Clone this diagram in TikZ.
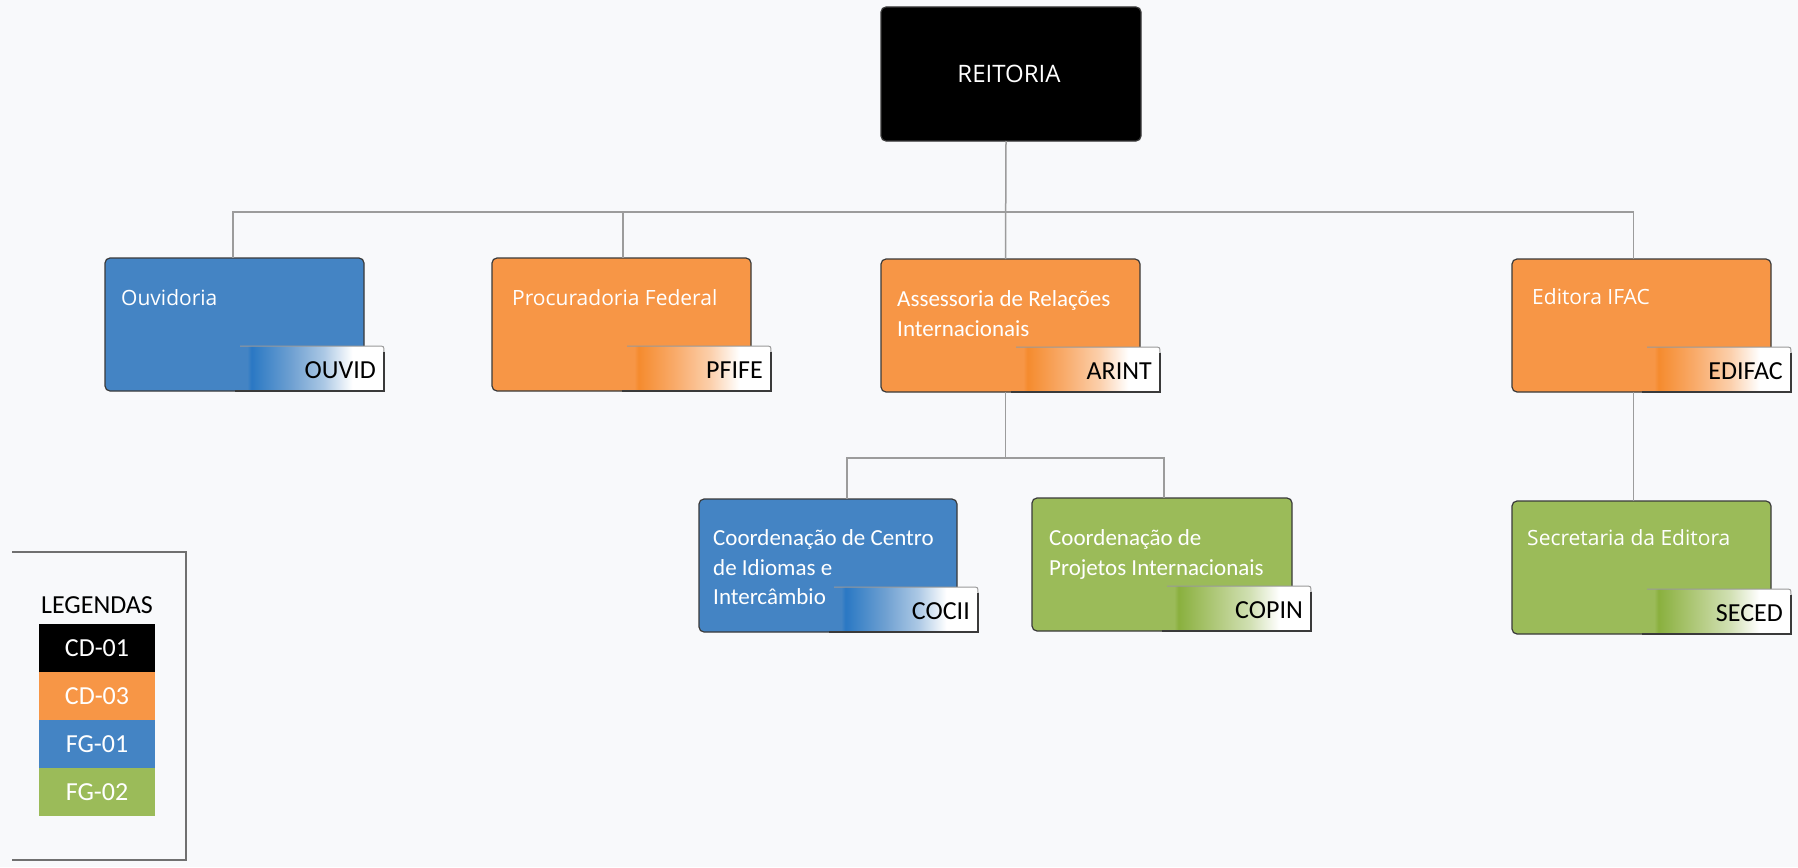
\documentclass[tikz,border=0pt]{standalone}
\usepackage{fontspec}
\setmainfont{Open Sans}
\newfontfamily\sqfont{Carlito}
\usetikzlibrary{calc}
\definecolor{bgc}{HTML}{F8F9FB}
\definecolor{cB}{HTML}{4484C4}
\definecolor{cBd}{HTML}{2A78C4}
\definecolor{cO}{HTML}{F79646}
\definecolor{cOd}{HTML}{F58B2E}
\definecolor{cG}{HTML}{9BBB59}
\definecolor{cGd}{HTML}{8AB03E}
\definecolor{edgec}{HTML}{3A3A3A}
\definecolor{connc}{HTML}{9C9C9C}
\definecolor{framec}{HTML}{707070}
\colorlet{cBm}{cB!78!white}
\colorlet{cBl}{cB!45!white}
\colorlet{cOm}{cO!78!white}
\colorlet{cOl}{cO!45!white}
\colorlet{cGm}{cG!78!white}
\colorlet{cGl}{cG!45!white}
\pgfdeclarehorizontalshading{tagB}{100bp}{color(0bp)=(cB); color(27.5bp)=(cB); color(29bp)=(cBd); color(42.5bp)=(cBm); color(54bp)=(cBl); color(64bp)=(white); color(100bp)=(white)}
\pgfdeclarehorizontalshading{tagO}{100bp}{color(0bp)=(cO); color(27.5bp)=(cO); color(29bp)=(cOd); color(42.5bp)=(cOm); color(54bp)=(cOl); color(64bp)=(white); color(100bp)=(white)}
\pgfdeclarehorizontalshading{tagG}{100bp}{color(0bp)=(cG); color(27.5bp)=(cG); color(29bp)=(cGd); color(42.5bp)=(cGm); color(54bp)=(cGl); color(64bp)=(white); color(100bp)=(white)}
\tikzset{
  box/.style={draw=edgec, line width=1.2pt, rounded corners=5pt, minimum width=259pt,
    minimum height=133pt, anchor=north west, inner sep=0pt, outer sep=0pt},
  boxtext/.style={anchor=north west, inner sep=0pt, align=left, text=white,
    font={\fontsize{21}{29.5}\selectfont}},
  sqtext/.style={boxtext, font={\sqfont\fontsize{23}{29.5}\selectfont}},
  tagtext/.style={anchor=east, inner sep=0pt, text=black, font={\sqfont\fontsize{26}{30}\selectfont}},
  conn/.style={draw=connc, line width=1.5pt},
  swatch/.style={minimum width=116pt, minimum height=48pt, inner sep=0pt, text=white,
    font={\sqfont\fontsize{26}{30}\selectfont}},
}
\newcommand\orgtag[4]{%
  \shade[shading=#2] ($(#1.south west)+(135,0)$) -- ($(#1.south west)+(135,-45)$)
    -- ($(#1.south west)+(273,-45)$) .. controls ($(#1.south west)+(279,-45)$) .. ($(#1.south west)+(279,-39)$)
    -- ($(#1.south west)+(279,0)$) -- cycle;
  \draw[draw=gray!80, line width=1pt] ($(#1.south west)+(135,-45)$) -- ($(#1.south west)+(273,-45)$)
    .. controls ($(#1.south west)+(279,-45)$) .. ($(#1.south west)+(279,-39)$);
  \draw[draw=edgec, line width=1.2pt] ($(#1.south west)+(279,-39)$) -- ($(#1.south west)+(279,0)$)
    -- ($(#1.south west)+(130,0)$);
  \node[tagtext] (#4) at ($(#1.south west)+(271,-21)$) {#3};
}
\begin{document}
\begin{tikzpicture}[x=1pt, y=-1pt]
\fill[bgc] (0,0) rectangle (1798,867);
\useasboundingbox (0,0) rectangle (1798,867);

% boxes
\node[box, fill=black, minimum width=260pt, minimum height=134pt] (reit) at (881,7) {};
\node[box, fill=cB] (ouv) at (105,258) {};
\node[box, fill=cO] (pro) at (492,258) {};
\node[box, fill=cO] (ari) at (881,259) {};
\node[box, fill=cO] (edi) at (1512,259) {};
\node[box, fill=cB, minimum width=258pt] (coc) at (699,499) {};
\node[box, fill=cG, minimum width=260pt] (cop) at (1032,498) {};
\node[box, fill=cG] (sec) at (1512,501) {};

% connectors
\coordinate (bus) at (0,212);
\coordinate (sub) at (0,458);
\draw[conn] ([xshift=-1.5pt]ouv.north) |- ([xshift=-8pt]edi.north |- bus) -- ([xshift=-8pt]edi.north);
\draw[conn] ([xshift=-5pt]reit.south) -- ([xshift=-5pt]ari.north);
\draw[conn] ([xshift=1.5pt]pro.north) -- ([xshift=1.5pt]pro.north |- bus);
\draw[conn] ([xshift=-5pt]ari.south) -- ([xshift=-5pt]ari.south |- sub);
\draw[conn] ([xshift=19pt]coc.north) |- ([xshift=2pt]cop.north |- sub) -- ([xshift=2pt]cop.north);
\draw[conn] ([xshift=-8pt]edi.south) -- ([xshift=-8pt]sec.north);

% box texts
\node[text=white, inner sep=0pt, font={\fontsize{24}{28}\selectfont}] (reitT) at ([xshift=-2pt]reit.center) {REITORIA};
\node[boxtext] (ouvT) at ($(ouv.north west)+(16,27)$) {\strut Ouvidoria};
\node[boxtext] (proT) at ($(pro.north west)+(20,27)$) {\strut Procuradoria Federal};
\node[sqtext] (ariT) at ($(ari.north west)+(16,27)$) {\strut Assessoria de Relações\\Internacionais};
\node[boxtext] (ediT) at ($(edi.north west)+(20,25)$) {\strut Editora IFAC};
\node[sqtext] (cocT) at ($(coc.north west)+(14,26)$) {\strut Coordenação de Centro\\de Idiomas e\\Intercâmbio};
\node[sqtext] (copT) at ($(cop.north west)+(17,27)$) {\strut Coordenação de\\Projetos Internacionais};
\node[boxtext] (secT) at ($(sec.north west)+(15,24)$) {\strut Secretaria da Editora};

% tags
\orgtag{ouv}{tagB}{OUVID}{ouvK}
\orgtag{pro}{tagO}{PFIFE}{proK}
\orgtag{ari}{tagO}{ARINT}{ariK}
\orgtag{edi}{tagO}{EDIFAC}{ediK}
\orgtag{coc}{tagB}{COCII}{cocK}
\orgtag{cop}{tagG}{COPIN}{copK}
\orgtag{sec}{tagG}{SECED}{secK}

% legend
\draw[draw=framec, line width=1.5pt] (12,552) -- (186,552) -- (186,860) -- (12,860);
\node[inner sep=0pt, font={\sqfont\fontsize{26}{30}\selectfont}] (legT) at (97,605) {LEGENDAS};
\node[swatch, fill=black] (leg1) at (97,648) {CD-01};
\node[swatch, fill=cO] (leg2) at (97,696) {CD-03};
\node[swatch, fill=cB] (leg3) at (97,744) {FG-01};
\node[swatch, fill=cG] (leg4) at (97,792) {FG-02};
\end{tikzpicture}
\end{document}
